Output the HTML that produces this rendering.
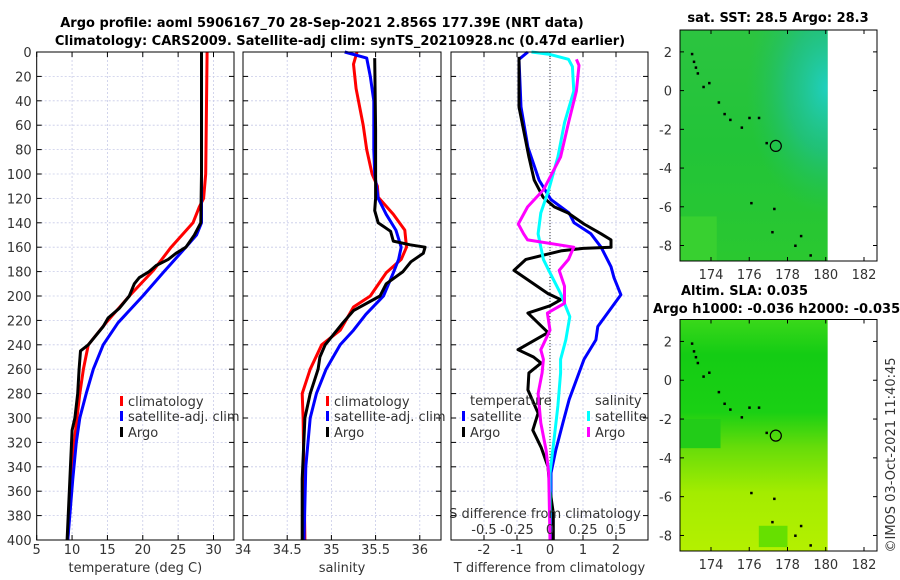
<!DOCTYPE html>
<html><head><meta charset="utf-8">
<style>
html,body{margin:0;padding:0;background:#fff;}
svg{display:block;font-family:"DejaVu Sans","Liberation Sans",sans-serif;}
.t{font-size:13px;fill:#333;}
.b{font-size:13px;font-weight:bold;fill:#000;}
</style></head>
<body>
<svg id="fig" width="900" height="580" viewBox="0 0 900 580">
<defs>
<linearGradient id="sstg" x1="0" y1="0" x2="0" y2="1">
<stop offset="0" stop-color="#2cc440"/><stop offset="0.5" stop-color="#22c438"/><stop offset="1" stop-color="#2ac830"/>
</linearGradient>
<radialGradient id="teal" cx="1" cy="0.25" r="0.55" fx="1" fy="0.25">
<stop offset="0" stop-color="#20d0c0" stop-opacity="1"/><stop offset="0.5" stop-color="#20c090" stop-opacity="0.7"/><stop offset="1" stop-color="#20c060" stop-opacity="0"/>
</radialGradient>
<linearGradient id="slag" x1="0" y1="0" x2="0" y2="1">
<stop offset="0" stop-color="#3ad81a"/><stop offset="0.15" stop-color="#14cc14"/><stop offset="0.4" stop-color="#1ad014"/><stop offset="0.55" stop-color="#66dc0a"/><stop offset="0.75" stop-color="#a4ec00"/><stop offset="1" stop-color="#b4f000"/>
</linearGradient>
</defs>
<text class="b" x="322" y="27" text-anchor="middle">Argo profile: aoml 5906167_70 28-Sep-2021 2.856S 177.39E (NRT data)</text>
<text class="b" x="340" y="45" text-anchor="middle">Climatology: CARS2009. Satellite-adj clim: synTS_20210928.nc (0.47d earlier)</text>
<g id="p1"></g>
<g id="p2"></g>
<g id="p3"></g>
<g id="m1"></g>
<g id="m2"></g>
<text class="b" x="778" y="22" text-anchor="middle">sat. SST: 28.5 Argo: 28.3</text>
<text class="b" x="681" y="295">Altim. SLA: 0.035</text>
<text class="b" x="653" y="313">Argo h1000: -0.036 h2000: -0.035</text>
<text class="t" transform="translate(895,455) rotate(-90)" text-anchor="middle">©IMOS 03-Oct-2021 11:40:45</text>
</svg>
<script>
// ---- data ----
const yTicks=[0,20,40,60,80,100,120,140,160,180,200,220,240,260,280,300,320,340,360,380,400];
const tTicks=[5,10,15,20,25,30,35];
const sTicks=[34,34.5,35,35.5,36];
const dTTicks=[-2,-1,0,1,2];
const dSTicks=[-0.5,-0.25,0,0.25,0.5];
const dSTickLabels=['-0.5','-0.25','0','0.25','0.5'];
const climTdep=[0,50,100,120,127,140,160,179,200,222,240,260,280,300,320,350,400];
const climT=[29.1,29.0,28.9,28.6,28.0,27.1,24.0,21.5,18.1,14.8,12.3,11.6,11.1,10.7,10.3,9.9,9.4];
const satTdep=[0,50,100,140,150,160,180,200,222,240,260,280,300,320,350,400];
const satT=[28.3,28.3,28.3,28.3,27.6,26.1,23.0,20.0,16.5,14.4,13.0,12.0,11.1,10.6,10.1,9.4];
const argoTdep=[0,50,100,140,150,160,165,170,175,180,185,190,200,210,218,225,240,245,260,280,300,310,350,400];
const argoT=[28.3,28.3,28.3,28.2,27.3,26.1,24.7,23.6,21.9,20.9,19.5,18.8,18.1,16.7,15.1,14.4,12.3,11.2,11.0,10.8,10.4,10.0,9.7,9.3];
const climSdep=[0,10,30,60,80,100,110,119,133,146,160,170,181,200,209,228,240,260,280,300,350,400];
const climS=[35.29,35.25,35.28,35.36,35.40,35.46,35.52,35.53,35.70,35.83,35.85,35.79,35.62,35.44,35.25,35.10,34.89,34.76,34.67,34.68,34.69,34.70];
const satSdep=[0,5,20,40,80,100,120,133,146,160,170,181,200,215,228,240,260,280,300,340,400];
const satS=[35.15,35.40,35.44,35.48,35.48,35.49,35.53,35.62,35.73,35.79,35.76,35.70,35.59,35.39,35.25,35.10,34.94,34.83,34.76,34.71,34.69];
const argoSdep=[5,64,120,130,140,147,155,158,160,165,172,180,190,200,212,222,240,250,260,280,300,350,400];
const argoS=[35.49,35.50,35.50,35.49,35.53,35.67,35.70,35.89,36.06,36.04,35.90,35.81,35.62,35.55,35.25,35.13,34.93,34.87,34.85,34.76,34.70,34.67,34.67];
const dSatTdep=[0,6,45,78,105,121,132,140,149,160,176,185,199,225,236,252,263,285,304,326,345,400];
const dSatT=[-0.67,-0.94,-0.88,-0.67,-0.33,0.03,0.58,0.73,1.24,1.55,1.85,1.94,2.15,1.45,1.39,1.03,0.88,0.58,0.39,0.18,0.03,0.03];
const dArgoTdep=[4,45,86,105,119,127,132,141,149,154,160,161,163,170,179,198,203,208,214,230,244,250,255,263,277,296,310,324,340,359,378,400];
const dArgoT=[-0.94,-0.94,-0.64,-0.48,-0.21,0.13,0.55,1.03,1.55,1.85,1.85,1.0,0.33,-0.73,-1.09,-0.06,0.33,0.0,-0.67,-0.06,-0.97,-0.5,-0.27,-0.64,-0.67,-0.36,-0.52,-0.27,-0.06,0.0,0.1,0.1];
const dSatSdep=[0,2,6,12,32,58,86,113,132,149,170,181,198,217,236,252,263,290,318,345,400];
const dSatS=[-0.14,0.0,0.14,0.17,0.18,0.11,0.06,-0.01,-0.07,-0.09,-0.05,0.0,0.08,0.15,0.12,0.08,0.08,0.06,0.03,0.0,0.0];
const dArgoSdep=[6,11,32,58,86,113,127,141,149,154,160,165,170,179,192,206,214,228,244,252,263,280,304,326,345,400];
const dArgoS=[0.2,0.22,0.2,0.14,0.08,-0.05,-0.17,-0.24,-0.2,-0.17,0.18,0.16,0.14,0.07,0.11,0.11,-0.02,0.0,-0.07,-0.05,-0.06,-0.09,-0.07,-0.03,-0.01,0.0];
const lonTicks=[174,176,178,180,182];
const latTicks=[2,0,-2,-4,-6,-8];
const argoLon=177.39, argoLat=-2.856;
const islandLon=[173.0,173.1,173.2,173.3,173.6,173.9,174.4,174.7,175.0,175.6,176.0,176.5,176.9,176.1,177.3,178.4,178.7,179.2,177.2];
const islandLat=[1.9,1.5,1.2,0.9,0.2,0.4,-0.6,-1.2,-1.5,-1.9,-1.4,-1.4,-2.7,-5.8,-6.1,-8.0,-7.5,-8.5,-7.3];

// ---- helpers ----
const NS='http://www.w3.org/2000/svg';
function mk(parent,tag,attrs){const e=document.createElementNS(NS,tag);for(const k in attrs)e.setAttribute(k,attrs[k]);parent.appendChild(e);return e;}
const Y0=52, Y1=540;
const yS=d=>Y0+d*(Y1-Y0)/400;

function panel(g,x0,x1,xmin,xmax,ticks,labels,xlabel,showY){
  const xs=v=>x0+(v-xmin)*(x1-x0)/(xmax-xmin);
  yTicks.forEach(d=>{const l=mk(g,'line',{x1:x0,x2:x1,y1:yS(d),y2:yS(d),stroke:'#c8cbe8','stroke-width':0.8,'stroke-dasharray':'2,2'});
    
    
    mk(g,'line',{x1:x0,x2:x0+5,y1:yS(d),y2:yS(d),stroke:'#000'});
    mk(g,'line',{x1:x1-5,x2:x1,y1:yS(d),y2:yS(d),stroke:'#000'});
    if(showY){const t=mk(g,'text',{x:x0-5,y:yS(d)+5,'text-anchor':'end',class:'t'});t.textContent=d;
      
      }
  });
  ticks.forEach((v,i)=>{const x=xs(v);if(x<x0-0.5||x>x1+0.5)return;
    if(x>x0+1&&x<x1-1){const l=mk(g,'line',{x1:x,x2:x,y1:Y0,y2:Y1,stroke:'#c8cbe8','stroke-width':0.8,'stroke-dasharray':'2,2'});
      
      }
    mk(g,'line',{x1:x,x2:x,y1:Y1,y2:Y1-5,stroke:'#000'});
    mk(g,'line',{x1:x,x2:x,y1:Y0,y2:Y0+5,stroke:'#000'});
    const t=mk(g,'text',{x:x,y:554,'text-anchor':'middle',class:'t'});t.textContent=labels[i];
    
    
  });
  const xl=mk(g,'text',{x:(x0+x1)/2,y:572,'text-anchor':'middle',class:'t'});xl.textContent=xlabel;
  
  
  return xs;
}
function frame(g,x0,x1){const r=mk(g,'rect',{x:x0,y:Y0,width:x1-x0,height:Y1-Y0,fill:'none',stroke:'#000','stroke-width':1});
  
  }
function line(g,xs,deps,vals,color,name){
  const pts=deps.map((d,i)=>xs(vals[i]).toFixed(1)+','+yS(d).toFixed(1)).join(' ');
  const p=mk(g,'polyline',{points:pts,fill:'none',stroke:color,'stroke-width':3,'stroke-linejoin':'round'});
  
  
}
function legend(g,x,y,color,label,name){
  mk(g,'rect',{x:x,y:y-10,width:3,height:10,fill:color});
  const t=mk(g,'text',{x:x+8,y:y,class:'t'});t.textContent=label;
  
  
}

// ---- panel 1 ----
const g1=document.getElementById('p1');
const xT=panel(g1,36.7,234,5,32.9,tTicks,tTicks.map(String),'temperature (deg C)',true);
line(g1,xT,climTdep,climT,'#ff0000','climatology-temp-line');
line(g1,xT,satTdep,satT,'#0000ff','satellite-temp-line');
line(g1,xT,argoTdep,argoT,'#000000','argo-temp-line');
frame(g1,36.7,234);
legend(g1,120,406,'#ff0000','climatology','legend-climatology');
legend(g1,120,421,'#0000ff','satellite-adj. clim','legend-satellite');
legend(g1,120,437,'#000000','Argo','legend-argo');

// ---- panel 2 ----
const g2=document.getElementById('p2');
const xSal=panel(g2,243,441,34,36.24,sTicks,sTicks.map(String),'salinity',false);
line(g2,xSal,climSdep,climS,'#ff0000','climatology-salinity-line');
line(g2,xSal,satSdep,satS,'#0000ff','satellite-salinity-line');
line(g2,xSal,argoSdep,argoS,'#000000','argo-salinity-line');
frame(g2,243,441);
legend(g2,326,406,'#ff0000','climatology','legend-climatology-s');
legend(g2,326,421,'#0000ff','satellite-adj. clim','legend-satellite-s');
legend(g2,326,437,'#000000','Argo','legend-argo-s');

// ---- panel 3 ----
const g3=document.getElementById('p3');
const xD=panel(g3,451,648,-3,2.97,dTTicks,dTTicks.map(String),'T difference from climatology',false);
const xDS=v=>xD(v*4);
const z=mk(g3,'line',{x1:xD(0),x2:xD(0),y1:Y0,y2:Y1,stroke:'#333','stroke-width':1,'stroke-dasharray':'1,2'});


line(g3,xD,dSatTdep,dSatT,'#0000ff','temp-diff-satellite-line');
line(g3,xD,dArgoTdep,dArgoT,'#000000','temp-diff-argo-line');
line(g3,xDS,dSatSdep,dSatS,'#00ffff','sal-diff-satellite-line');
line(g3,xDS,dArgoSdep,dArgoS,'#ff00ff','sal-diff-argo-line');
frame(g3,451,648);
let tt=mk(g3,'text',{x:470,y:405,class:'t'});tt.textContent='temperature';


tt=mk(g3,'text',{x:595,y:405,class:'t'});tt.textContent='salinity';


legend(g3,462,421,'#0000ff','satellite','legend-t-satellite');
legend(g3,462,437,'#000000','Argo','legend-t-argo');
legend(g3,587,421,'#00ffff','satellite','legend-s-satellite');
legend(g3,587,437,'#ff00ff','Argo','legend-s-argo');
tt=mk(g3,'text',{x:545,y:518,'text-anchor':'middle',class:'t'});tt.textContent='S difference from climatology';


dSTicks.forEach((v,i)=>{const t=mk(g3,'text',{x:xDS(v),y:534,'text-anchor':'middle',class:'t'});t.textContent=dSTickLabels[i];
  
  });

// ---- maps ----
function map(g,top,bot,fill,isSla){
  const x0=680,x1=877,lon0=172.38,lon1=182.68,lat0=3.13,lat1=-8.8;
  const lx=v=>x0+(v-lon0)*(x1-x0)/(lon1-lon0);
  const ly=v=>top+(v-lat0)*(bot-top)/(lat1-lat0);
  const r=mk(g,'rect',{x:x0,y:top,width:lx(180.1)-x0,height:bot-top,fill:fill});
  
  
  if(isSla){
    mk(g,'rect',{x:lx(176.5),y:ly(-7.5),width:lx(178)-lx(176.5),height:ly(-8.6)-ly(-7.5),fill:'#66e000'});
    mk(g,'rect',{x:x0,y:ly(-2),width:lx(174.5)-x0,height:ly(-3.5)-ly(-2),fill:'#22cc18'});
  } else {
    mk(g,'rect',{x:x0,y:top,width:lx(180.1)-x0,height:bot-top,fill:'url(#teal)'});
    mk(g,'rect',{x:x0,y:ly(-6.5),width:lx(174.3)-x0,height:ly(-8.8)-ly(-6.5),fill:'#38d030'});
  }
  islandLon.forEach((lo,i)=>{const d=mk(g,'rect',{x:lx(lo)-1,y:ly(islandLat[i])-1,width:2.5,height:2.5,fill:'#000'});
    
    });
  const c=mk(g,'circle',{cx:lx(argoLon),cy:ly(argoLat),r:5.5,fill:'none',stroke:'#000','stroke-width':1.2});
  
  
  const f=mk(g,'rect',{x:x0,y:top,width:x1-x0,height:bot-top,fill:'none',stroke:'#000'});
  
  
  lonTicks.forEach(v=>{const x=lx(v);mk(g,'line',{x1:x,x2:x,y1:bot,y2:bot-4,stroke:'#000'});mk(g,'line',{x1:x,x2:x,y1:top,y2:top+4,stroke:'#000'});
    const t=mk(g,'text',{x:x,y:bot+18,'text-anchor':'middle',class:'t'});t.textContent=v;
    
    });
  latTicks.forEach(v=>{const y=ly(v);mk(g,'line',{x1:x0,x2:x0+4,y1:y,y2:y,stroke:'#000'});mk(g,'line',{x1:x1-4,x2:x1,y1:y,y2:y,stroke:'#000'});
    const t=mk(g,'text',{x:x0-8,y:y+5,'text-anchor':'end',class:'t'});t.textContent=v;
    
    });
}
map(document.getElementById('m1'),30,261,'url(#sstg)',false);
map(document.getElementById('m2'),319.5,551,'url(#slag)',true);
</script>
</body></html>
